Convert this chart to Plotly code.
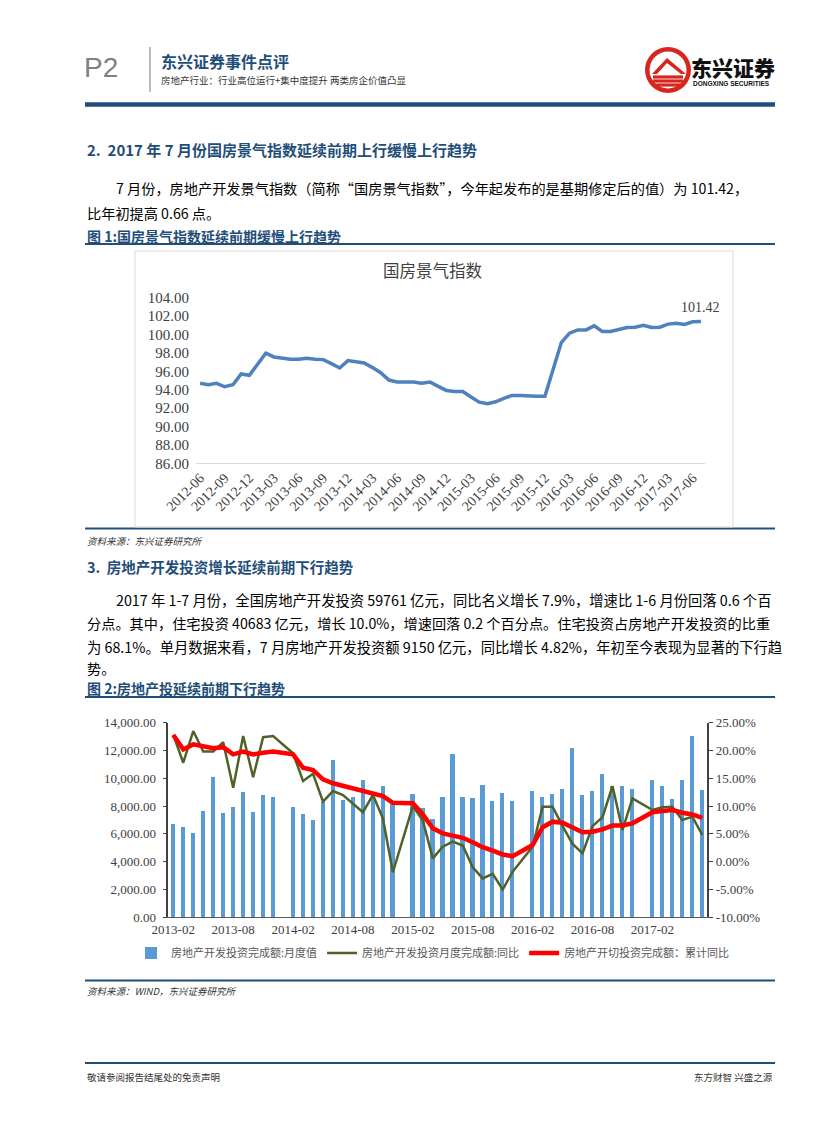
import plotly.graph_objects as go

# ---------------- data ----------------
# Chart 1: 国房景气指数, monthly 2012-06 .. 2017-07
idx_tick_labels = ["2012-06", "2012-09", "2012-12", "2013-03", "2013-06", "2013-09", "2013-12",
                   "2014-03", "2014-06", "2014-09", "2014-12", "2015-03", "2015-06", "2015-09",
                   "2015-12", "2016-03", "2016-06", "2016-09", "2016-12", "2017-03", "2017-06"]
idx_values = [94.69, 94.54, 94.69, 94.32, 94.54, 95.71, 95.56, 96.76, 97.96, 97.56,
              97.42, 97.31, 97.31, 97.42, 97.31, 97.27, 96.83, 96.36, 97.16, 97.05,
              96.90, 96.40, 95.85, 95.05, 94.83, 94.83, 94.83, 94.69, 94.83, 94.36,
              93.92, 93.81, 93.80, 93.20, 92.65, 92.47, 92.69, 93.05, 93.38, 93.38,
              93.30, 93.30, 93.30, 96.20, 99.12, 100.14, 100.50, 100.50, 100.94, 100.32,
              100.32, 100.54, 100.76, 100.80, 101.01, 100.76, 100.80, 101.13, 101.23, 101.10,
              101.38, 101.42]
idx_y_ticks = [86, 88, 90, 92, 94, 96, 98, 100, 102, 104]

# Chart 2: 房地产开发投资, monthly 2013-02 .. 2017-07 (January not published)
inv_tick_labels = ["2013-02", "2013-08", "2014-02", "2014-08", "2015-02",
                   "2015-08", "2016-02", "2016-08", "2017-02"]
inv_monthly = [6700, 6500, 6110, 7700, 10090, 7530, 7930, 9010, 7620, 8820, 8650, None,
               7980, 7460, 7000, 8320, 11370, 8440, 8650, 9880, 8650, 9500, 8200, None,
               8890, 7910, 7090, 8650, 11750, 8650, 8580, 9540, 8370, 8970, 8370, None,
               9110, 8650, 8900, 9280, 12180, 8820, 9110, 10310, 9500, 9470, 9280, None,
               9920, 9470, 8510, 9920, 13090, 9150]
inv_monthly_yoy = [22.8, 17.8, 23.5, 19.8, 19.8, 21.5, 13.3, 22.6, 15.2, 22.4, 22.6, None,
                   19.5, 14.5, 15.8, 10.8, 12.7, 12.0, 10.5, 8.9, 12.0, 7.8, -1.9, None,
                   10.0, 7.4, 0.6, 2.7, 3.6, 2.9, -1.0, -3.0, -2.2, -5.0, -1.8, None,
                   2.7, 9.9, 9.9, 6.4, 3.2, 1.5, 6.4, 8.0, 13.6, 5.7, 11.4, None,
                   9.3, 9.8, 9.9, 7.5, 8.1, 4.8]
inv_cum_yoy = [22.8, 20.2, 21.1, 20.7, 20.4, 20.6, 19.3, 19.8, 19.3, 19.6, 19.8, None,
               19.3, 16.9, 16.5, 14.8, 14.1, 13.6, 13.1, 12.6, 12.3, 11.8, 10.6, None,
               10.5, 8.5, 6.0, 5.1, 4.6, 4.3, 3.5, 2.6, 2.0, 1.3, 1.0, None,
               3.0, 6.2, 7.2, 7.0, 6.1, 5.3, 5.4, 5.8, 6.5, 6.5, 6.9, None,
               8.9, 9.1, 9.3, 8.8, 8.5, 7.9]
inv_left_ticks = [0, 2000, 4000, 6000, 8000, 10000, 12000, 14000]
inv_right_ticks = [-10, -5, 0, 5, 10, 15, 20, 25]
inv_right_labels = ["-10.00%", "-5.00%", "0.00%", "5.00%", "10.00%", "15.00%", "20.00%", "25.00%"]
series_names = ["房地产开发投资完成额:月度值", "房地产开发投资月度完成额:同比", "房地产开切投资完成额：累计同比"]

# ---------------- helpers ----------------
W, H = 827, 1122
def X(px): return px / W
def Y(py): return 1 - py / H

CJK = "Noto Sans CJK SC"
SERIF = "Liberation Serif"
NAVY = "#1F4E79"

fig = go.Figure()

n1 = len(idx_values)
fig.add_trace(go.Scatter(x=list(range(n1)), y=idx_values, mode="lines",
                         line=dict(color="#4F81BD", width=3.5), xaxis="x", yaxis="y",
                         showlegend=False, hoverinfo="skip"))

n2 = len(inv_monthly)
fig.add_trace(go.Bar(x=list(range(n2)), y=inv_monthly, width=0.42, marker_color="#5B9BD5",
                     name=series_names[0], xaxis="x2", yaxis="y2"))
fig.add_trace(go.Scatter(x=list(range(n2)), y=inv_monthly_yoy, mode="lines", connectgaps=True,
                         line=dict(color="#4F6228", width=2.5), name=series_names[1],
                         xaxis="x2", yaxis="y3"))
fig.add_trace(go.Scatter(x=list(range(n2)), y=inv_cum_yoy, mode="lines", connectgaps=True,
                         line=dict(color="#FF0000", width=4.5), name=series_names[2],
                         xaxis="x2", yaxis="y3"))

x1_dom = [X(196), X(705)]
y1_dom = [Y(463.3), Y(297.7)]
x2_dom = [X(168.3), X(707.3)]
y2_dom = [Y(917.3), Y(722.7)]

tickfont = dict(family=SERIF, size=13, color="#404040")

fig.update_layout(
    template="none",
    width=W, height=H, margin=dict(l=0, r=0, t=0, b=0, pad=0, autoexpand=False),
    paper_bgcolor="white", plot_bgcolor="rgba(0,0,0,0)",
    bargap=0,
    xaxis=dict(domain=x1_dom, range=[-0.5, n1 - 0.5], anchor="y", automargin=False,
               tickvals=list(range(0, n1, 3)), ticktext=idx_tick_labels, tickangle=-45,
               ticks="", showline=True, linecolor="#D9D9D9", linewidth=1, showgrid=False,
               zeroline=False, tickfont=dict(family=SERIF, size=14, color="#404040")),
    xaxis3=dict(domain=x1_dom, range=[-0.5, n1 - 0.5], anchor="y", overlaying="x",
                automargin=False,
                tickvals=[k - 0.5 for k in range(0, n1, 3)], ticks="outside", ticklen=5,
                tickcolor="#D9D9D9", showticklabels=False, showgrid=False, zeroline=False),
    yaxis=dict(domain=y1_dom, range=[86, 104], anchor="x", tickvals=idx_y_ticks,
               automargin=False, ticklabelstandoff=6,
               tickformat=".2f", showline=False, showgrid=False, zeroline=False,
               ticks="", tickfont=dict(family=SERIF, size=15, color="#404040")),
    xaxis2=dict(domain=x2_dom, range=[-0.5, n2 - 0.5], anchor="y2", automargin=False,
                tickvals=list(range(0, n2, 6)), ticktext=inv_tick_labels, tickangle=0,
                ticks="", showline=True, linecolor="#595959", linewidth=1, showgrid=False,
                zeroline=False, tickfont=tickfont),
    xaxis4=dict(domain=x2_dom, range=[-0.5, n2 - 0.5], anchor="y2", overlaying="x2",
                automargin=False,
                tickvals=[k - 0.5 for k in range(0, n2, 6)], ticks="outside", ticklen=4,
                tickcolor="#595959", showticklabels=False, showgrid=False, zeroline=False),
    yaxis2=dict(domain=y2_dom, range=[0, 14000], anchor="x2", tickvals=inv_left_ticks,
                automargin=False, ticklabelstandoff=4,
                tickformat=",.2f", showline=True, linecolor="#404040", linewidth=1.5,
                ticks="outside", ticklen=4, tickcolor="#404040", showgrid=False,
                zeroline=False, tickfont=tickfont),
    yaxis3=dict(range=[-10, 25], anchor="x2", overlaying="y2", side="right",
                automargin=False,
                tickvals=inv_right_ticks, ticktext=inv_right_labels, showline=True,
                linecolor="#404040", linewidth=1.5, ticks="outside", ticklen=4,
                tickcolor="#404040", showgrid=False, zeroline=False, tickfont=tickfont),
    legend=dict(orientation="h", x=X(433), xanchor="center", y=Y(953), yanchor="middle",
                font=dict(family=CJK, size=11, color="#595959"), itemwidth=30,
                bgcolor="rgba(0,0,0,0)", traceorder="normal"),
    showlegend=True,
)

shapes = []
def hline(y, x0=85, x1=775, w=2, color=NAVY):
    shapes.append(dict(type="line", xref="paper", yref="paper", x0=X(x0), x1=X(x1),
                       y0=Y(y), y1=Y(y), line=dict(color=color, width=w)))

hline(104.5, w=4.5)
hline(244, w=2)
hline(528.5, w=2)
hline(697, w=2)
hline(980.5, w=2)
hline(1063, w=2)
# vertical header divider
shapes.append(dict(type="line", xref="paper", yref="paper", x0=X(150), x1=X(150),
                   y0=Y(47), y1=Y(92), line=dict(color="#A6A6A6", width=1.5)))
# chart 1 frame
shapes.append(dict(type="rect", xref="paper", yref="paper", x0=X(135), x1=X(733),
                   y0=Y(527), y1=Y(251), line=dict(color="#D9D9D9", width=1)))
# logo
cx, cy, r = 668, 70, 23
shapes.append(dict(type="circle", xref="paper", yref="paper", x0=X(cx - r), x1=X(cx + r),
                   y0=Y(cy + r), y1=Y(cy - r), fillcolor="#D7261E", line=dict(width=0)))
r2 = 18.5
shapes.append(dict(type="circle", xref="paper", yref="paper", x0=X(cx - r2), x1=X(cx + r2),
                   y0=Y(cy + r2), y1=Y(cy - r2), fillcolor="white", line=dict(width=0)))
def P(px, py): return f"{X(px):.5f},{Y(py):.5f}"
roof = "M " + P(652, 74) + " L " + P(667, 58) + " L " + P(686, 74) + " L " + P(681, 74) + \
       " L " + P(667, 63) + " L " + P(657, 74) + " Z"
shapes.append(dict(type="path", xref="paper", yref="paper", path=roof, fillcolor="#D7261E",
                   line=dict(width=0)))
for yy in (77, 81, 85):
    shapes.append(dict(type="rect", xref="paper", yref="paper", x0=X(653), x1=X(683),
                       y0=Y(yy + 1.6), y1=Y(yy - 1.6), fillcolor="#D7261E", line=dict(width=0)))
fig.update_layout(shapes=shapes)

ann = []
def text(x, y, s, size, color="#000000", bold=False, anchor="left", family=CJK, italic=False):
    ann.append(dict(xref="paper", yref="paper", x=X(x), y=Y(y), text=s, showarrow=False,
                    xanchor=anchor, yanchor="middle",
                    font=dict(family=family, size=size, color=color,
                              weight=700 if bold else 400,
                              style="italic" if italic else "normal")))

text(82, 68, "P2", 28, color="#808080", family="Liberation Sans")
text(159, 61, "东兴证券事件点评", 16, color=NAVY, bold=True)
text(159, 80, "房地产行业：行业高位运行+集中度提升 两类房企价值凸显", 9.5, color="#333333")
ann.append(dict(xref="paper", yref="paper", x=X(689), y=Y(67), text="东兴证券", showarrow=False,
                xanchor="left", yanchor="middle",
                font=dict(family=CJK, size=21, color="#111111", weight=900)))
text(691, 84, "DONGXING SECURITIES", 6.5, color="#111111", bold=True, family="Liberation Sans")

text(85, 150, "2.  2017 年 7 月份国房景气指数延续前期上行缓慢上行趋势", 15, color=NAVY, bold=True)
text(114, 188, "7 月份，房地产开发景气指数（简称“国房景气指数”，今年起发布的是基期修定后的值）为 101.42，", 14.2)
text(85, 213, "比年初提高 0.66 点。", 14.2)
text(85, 236, "图 1:国房景气指数延续前期缓慢上行趋势", 14, color=NAVY, bold=True)
text(433, 270, "国房景气指数", 16.5, color="#404040", anchor="center")
text(85, 541, "资料来源：东兴证券研究所", 9.5, color="#333333", italic=True)

text(85, 566, "3.  房地产开发投资增长延续前期下行趋势", 14.5, color=NAVY, bold=True)
text(114, 599, "2017 年 1-7 月份，全国房地产开发投资 59761 亿元，同比名义增长 7.9%，增速比 1-6 月份回落 0.6 个百", 14.3)
text(85, 623, "分点。其中，住宅投资 40683 亿元，增长 10.0%，增速回落 0.2 个百分点。住宅投资占房地产开发投资的比重", 14.2)
text(85, 646, "为 68.1%。单月数据来看，7 月房地产开发投资额 9150 亿元，同比增长 4.82%，年初至今表现为显著的下行趋", 14.3)
text(85, 668, "势。", 14.2)
text(85, 688, "图 2:房地产投延续前期下行趋势", 14, color=NAVY, bold=True)
text(85, 991, "资料来源：WIND，东兴证券研究所", 9.5, color="#333333", italic=True)

text(85, 1077, "敬请参阅报告结尾处的免责声明", 9.5, color="#333333")
text(775, 1077, "东方财智 兴盛之源", 9.5, color="#333333", anchor="right")

# data label on last point of chart 1
ann.append(dict(xref="x", yref="y", x=n1 - 1, y=idx_values[-1], text=f"{idx_values[-1]:.2f}",
                showarrow=False, xanchor="center", yanchor="bottom", yshift=4,
                font=dict(family=SERIF, size=14, color="#404040")))
fig.update_layout(annotations=ann)

fig.write_html("out.html", config={"displayModeBar": False},
               post_script="document.body.style.margin='0';")
